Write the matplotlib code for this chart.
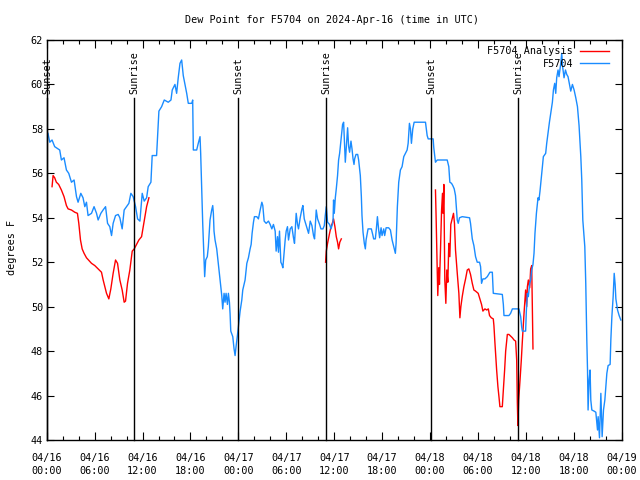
import matplotlib
matplotlib.use("Agg")
import matplotlib.pyplot as plt
from matplotlib.ticker import MultipleLocator
import matplotlib.transforms as mtransforms

# hours since 04/16 00:00 UTC, dew point in F
dew_16 = [(0.16, 57.8), (0.38, 57.4), (0.67, 57.5), (1.0, 57.2), (1.63, 57.05), (1.84, 56.6),
          (2.17, 56.7), (2.47, 56.15), (2.76, 56.0), (3.1, 55.6), (3.43, 55.7), (3.73, 54.95),
          (3.93, 54.7), (4.27, 55.1), (4.55, 54.9), (4.77, 54.5), (4.98, 54.7), (5.18, 54.1),
          (5.61, 54.2), (5.93, 54.5), (6.24, 54.2), (6.44, 53.9), (6.78, 54.2), (7.06, 54.35),
          (7.37, 54.5), (7.62, 53.75), (7.9, 53.6), (8.12, 53.2), (8.32, 53.75), (8.62, 54.1),
          (8.95, 54.15), (9.16, 54.0), (9.45, 53.5), (9.7, 54.35), (10.0, 54.5), (10.29, 54.65),
          (10.54, 55.1), (10.83, 54.95), (11.13, 54.5), (11.38, 53.95), (11.67, 53.85), (11.96, 55.1),
          (12.21, 54.75), (12.51, 54.9), (12.71, 55.4), (13.05, 55.6), (13.21, 56.8), (13.76, 56.8),
          (14.05, 58.8), (14.39, 59.0), (14.72, 59.3), (15.22, 59.2), (15.56, 59.3), (15.72, 59.75),
          (16.06, 60.0), (16.27, 59.6), (16.47, 60.3), (16.69, 60.95), (16.9, 61.1), (17.1, 60.4),
          (17.31, 60.0), (17.53, 59.6), (17.73, 59.15), (18.16, 59.15), (18.28, 59.3)]

dew_17 = [(18.36, 57.05), (18.78, 57.05), (18.98, 57.35), (19.2, 57.65), (19.28, 56.9), (19.41, 55.25),
          (19.54, 53.7), (19.7, 52.1), (19.78, 51.35), (19.91, 52.1), (20.11, 52.25), (20.24, 52.7),
          (20.45, 53.9), (20.66, 54.35), (20.79, 54.55), (20.87, 54.2), (20.95, 53.4), (21.08, 53.0),
          (21.29, 52.6), (21.5, 51.9), (21.71, 51.2), (21.92, 50.5), (22.04, 49.9), (22.21, 50.6),
          (22.33, 50.2), (22.46, 50.6), (22.63, 50.1), (22.75, 50.6), (22.88, 50.2), (22.96, 49.7),
          (23.05, 48.9), (23.3, 48.65), (23.46, 48.1), (23.59, 47.8), (23.71, 48.2), (23.88, 48.7),
          (24.0, 49.1), (24.22, 49.8), (24.43, 50.3), (24.55, 50.75), (24.84, 51.2), (25.06, 51.95),
          (25.26, 52.2), (25.47, 52.6), (25.6, 52.8), (25.72, 53.3), (25.89, 53.8), (26.01, 54.05),
          (26.31, 54.05), (26.51, 53.95), (26.73, 54.35), (26.94, 54.7), (27.06, 54.55), (27.23, 53.85),
          (27.48, 53.75), (27.77, 53.85), (27.98, 53.7), (28.19, 53.5), (28.39, 53.7), (28.61, 53.4),
          (28.73, 52.5), (28.9, 53.15), (29.02, 52.45), (29.15, 53.4), (29.32, 52.0), (29.45, 51.9),
          (29.57, 51.75), (29.74, 52.45), (29.86, 53.0), (29.99, 53.4), (30.15, 53.6), (30.28, 53.0),
          (30.49, 53.5), (30.7, 53.6), (30.9, 53.1), (31.03, 52.85), (31.24, 54.2), (31.41, 53.7),
          (31.53, 53.5), (31.74, 54.0), (31.96, 54.4), (32.08, 54.55), (32.25, 53.95), (32.5, 53.65),
          (32.66, 53.45), (32.79, 53.3), (33.0, 53.85), (33.21, 53.65), (33.41, 53.2), (33.54, 53.05),
          (33.75, 54.35), (33.92, 53.95), (34.17, 53.7), (34.34, 53.5), (34.59, 53.5), (34.76, 53.65),
          (34.88, 54.1), (35.01, 54.5), (35.17, 53.8), (35.42, 53.7), (35.6, 53.5), (35.85, 53.8),
          (35.92, 54.8), (36.01, 54.2), (36.14, 54.9), (36.26, 55.3), (36.42, 55.9), (36.55, 56.6),
          (36.68, 56.9)]

dew_18a = [(36.97, 57.95), (37.05, 58.2), (37.18, 58.3), (37.3, 57.2), (37.39, 56.5), (37.52, 57.2),
           (37.68, 58.05), (37.81, 57.2), (37.93, 56.95), (38.1, 57.45), (38.23, 57.1), (38.36, 56.65),
           (38.48, 56.4), (38.56, 56.65), (38.73, 56.85), (38.94, 56.85), (39.06, 56.6), (39.27, 55.9),
           (39.4, 54.95), (39.48, 54.1), (39.61, 53.35), (39.77, 52.85), (39.9, 52.6), (39.99, 53.0),
           (40.11, 53.25), (40.24, 53.5), (40.65, 53.5), (40.82, 53.25), (40.94, 53.05), (41.15, 53.05),
           (41.28, 53.5), (41.41, 54.05), (41.57, 53.45), (41.69, 53.1), (41.87, 53.55), (41.99, 53.2),
           (42.2, 53.5), (42.32, 53.2), (42.5, 53.55), (42.82, 53.55), (43.04, 53.45), (43.25, 53.0),
           (43.45, 52.7), (43.66, 52.4), (43.75, 52.85), (43.91, 54.5), (44.08, 55.6), (44.29, 56.15),
           (44.5, 56.3), (44.71, 56.75), (44.92, 56.9), (45.13, 57.05), (45.26, 57.35), (45.42, 58.25),
           (45.55, 58.0), (45.67, 57.35), (45.84, 58.0), (46.01, 58.3), (47.43, 58.3), (47.64, 57.7),
           (47.77, 57.55), (48.39, 57.55), (48.47, 57.15), (48.68, 56.5), (48.9, 56.6), (50.15, 56.6),
           (50.35, 56.3), (50.48, 55.6), (50.69, 55.55), (50.85, 55.45), (51.03, 55.3), (51.19, 55.0),
           (51.41, 53.9), (51.53, 53.75), (51.69, 54.0), (52.03, 54.05), (52.95, 54.0), (53.07, 53.75),
           (53.29, 53.05), (53.49, 52.75), (53.7, 52.25), (53.91, 52.0), (54.2, 52.0), (54.33, 51.8),
           (54.45, 51.05), (54.62, 51.25), (54.87, 51.25)]

dew_18b = [(55.17, 51.35), (55.5, 51.55), (55.8, 51.55), (55.92, 50.6), (57.05, 50.55), (57.18, 50.1),
           (57.26, 49.6), (57.88, 49.6), (58.09, 49.7), (58.31, 49.9), (59.13, 49.9), (59.35, 49.55),
           (59.47, 49.1), (59.56, 48.9), (59.97, 48.9), (60.06, 49.8), (60.19, 50.6), (60.31, 50.45),
           (60.48, 51.05), (60.6, 51.2), (60.73, 51.65), (60.89, 51.9), (61.02, 52.4), (61.14, 53.3),
           (61.32, 54.2), (61.44, 54.6), (61.52, 54.9), (61.64, 54.8), (61.77, 55.2), (61.94, 55.85),
           (62.07, 56.3), (62.19, 56.75), (62.48, 56.9), (62.61, 57.35), (62.77, 57.8), (62.95, 58.3),
           (63.11, 58.7), (63.32, 59.2), (63.45, 59.75), (63.61, 60.05), (63.74, 59.6), (63.86, 60.3),
           (64.03, 60.65), (64.15, 60.35), (64.37, 60.95), (64.49, 61.4), (64.62, 60.75), (64.78, 60.3),
           (64.96, 60.65), (65.12, 60.45), (65.28, 60.35), (65.46, 60.0), (65.62, 59.7), (65.83, 60.0),
           (66.04, 59.75), (66.25, 59.4), (66.46, 59.0), (66.66, 58.15), (66.88, 56.75), (67.0, 55.7),
           (67.13, 53.9), (67.38, 52.7), (67.5, 51.05), (67.63, 48.5), (67.72, 47.15), (67.79, 45.35),
           (67.92, 46.7), (68.04, 47.15), (68.13, 45.8), (68.26, 45.35), (68.54, 45.3), (68.76, 45.25),
           (68.97, 44.45), (69.05, 45.05), (69.22, 44.1), (69.39, 46.1), (69.55, 44.15), (69.72, 45.35),
           (69.89, 45.8), (70.01, 46.4), (70.14, 47.0), (70.3, 47.35), (70.55, 47.4), (70.64, 48.5),
           (70.77, 49.55), (70.93, 50.45), (71.06, 51.5), (71.18, 51.0), (71.27, 50.35), (71.48, 49.85),
           (71.68, 49.6), (71.89, 49.4)]

# analysis series, three separate runs
analysis_1 = [(0.67, 55.4), (0.8, 55.9), (1.0, 55.8), (1.21, 55.6), (1.5, 55.5), (1.84, 55.25),
              (2.17, 54.95), (2.47, 54.55), (2.68, 54.4), (3.1, 54.35), (3.51, 54.25), (3.85, 54.2),
              (4.02, 53.75), (4.23, 53.0), (4.44, 52.6), (4.68, 52.4), (4.98, 52.2), (5.61, 51.95),
              (6.02, 51.85), (6.44, 51.7), (6.86, 51.55), (7.07, 51.2), (7.28, 50.9), (7.49, 50.6),
              (7.78, 50.35), (8.03, 50.8), (8.32, 51.5), (8.62, 52.1), (8.87, 51.95), (9.16, 51.2),
              (9.45, 50.75), (9.7, 50.2), (9.87, 50.25), (10.12, 51.05), (10.41, 51.65), (10.71, 52.5),
              (10.96, 52.6), (11.25, 52.8), (11.54, 53.0), (11.88, 53.15), (12.09, 53.6), (12.3, 54.05),
              (12.51, 54.5), (12.8, 54.9)]

analysis_2 = [(34.92, 52.0), (35.01, 52.5), (35.17, 52.85), (35.42, 53.3), (35.6, 53.6), (35.76, 53.75),
              (35.92, 53.95), (36.09, 53.6), (36.26, 53.15), (36.42, 52.9), (36.55, 52.6), (36.7, 52.9),
              (36.89, 53.05)]

analysis_3 = [(48.68, 55.25), (48.76, 54.05), (48.9, 51.65), (48.97, 50.5), (49.1, 51.75), (49.18, 51.0),
              (49.31, 52.55), (49.44, 54.3), (49.56, 55.1), (49.64, 54.2), (49.73, 55.5), (49.85, 51.2),
              (49.98, 50.15), (50.1, 51.65), (50.23, 51.1), (50.35, 52.85), (50.48, 52.25), (50.6, 53.7),
              (50.77, 53.95), (50.94, 54.2), (51.06, 53.75), (51.19, 52.55), (51.41, 51.5), (51.61, 50.6),
              (51.74, 49.5), (51.86, 50.0), (52.03, 50.45), (52.24, 50.9), (52.45, 51.25), (52.66, 51.65),
              (52.86, 51.7), (53.07, 51.45), (53.29, 51.05), (53.49, 50.75), (53.7, 50.7), (54.03, 50.6),
              (54.2, 50.4), (54.45, 50.1), (54.62, 49.8), (54.87, 49.9), (55.1, 49.85), (55.3, 49.9),
              (55.45, 49.6), (55.67, 49.5), (55.92, 49.45), (56.0, 49.15), (56.13, 48.35), (56.34, 47.15),
              (56.5, 46.4), (56.63, 45.95), (56.75, 45.5), (57.05, 45.5), (57.18, 46.25), (57.34, 47.15),
              (57.47, 48.0), (57.68, 48.75), (57.88, 48.75), (58.31, 48.6), (58.52, 48.5), (58.72, 48.45),
              (58.85, 47.6), (58.93, 45.7), (59.0, 44.65), (59.1, 45.8), (59.27, 46.7), (59.43, 47.6),
              (59.56, 48.45), (59.77, 49.7), (59.97, 50.75), (60.1, 50.0), (60.19, 50.9), (60.31, 51.2),
              (60.48, 50.85), (60.6, 51.7), (60.73, 51.85), (60.81, 50.0), (60.89, 48.1)]

sun_events = ["Sunset", "Sunrise", "Sunset", "Sunrise", "Sunset", "Sunrise"]
sun_hours = [0.05, 10.92, 23.98, 35.03, 48.12, 59.0]

x_tick_labels = ["04/16\n00:00", "04/16\n06:00", "04/16\n12:00", "04/16\n18:00",
                 "04/17\n00:00", "04/17\n06:00", "04/17\n12:00", "04/17\n18:00",
                 "04/18\n00:00", "04/18\n06:00", "04/18\n12:00", "04/18\n18:00",
                 "04/19\n00:00"]

plt.rcParams['font.family'] = ['DejaVu Sans Mono']
plt.rcParams['font.size'] = 7.3

fig = plt.figure(figsize=(6.4, 4.8), dpi=100)
ax = fig.add_axes([46.7 / 640, 40 / 480, 575 / 640, 400 / 480])

red = '#ff0000'
blue = '#1a8cff'

for i, seg in enumerate([analysis_1, analysis_2, analysis_3]):
    h, v = zip(*seg)
    ax.plot(h, v, color=red, lw=1.0, label="F5704 Analysis" if i == 0 else None)

dew = dew_16 + dew_17 + dew_18a + dew_18b
h, v = zip(*dew)
ax.plot(h, v, color=blue, lw=1.0, label="F5704")

# sunrise / sunset markers
trans = mtransforms.blended_transform_factory(ax.transData, ax.transAxes)
for name, hr in zip(sun_events, sun_hours):
    ax.plot([hr, hr], [0, 0.855], color='black', lw=1.0, transform=trans, clip_on=False)
    ax.text(hr, 0.866, name, rotation=90, ha='center', va='bottom', transform=trans)

ax.set_xlim(0, 72)
ax.set_ylim(44, 62)
ax.set_xticks(range(0, 73, 6))
ax.set_xticklabels(x_tick_labels)
for lab in ax.get_xticklabels():
    lab.set_linespacing(1.5)
ax.xaxis.set_minor_locator(MultipleLocator(2))
ax.set_yticks(range(44, 63, 2))

ax.tick_params(which='both', direction='in', top=True, right=True, width=0.8)
ax.tick_params(axis='x', which='major', length=6, pad=9)
ax.tick_params(axis='x', which='minor', length=3)
ax.tick_params(axis='y', which='major', length=5, pad=2.6)
for s in ax.spines.values():
    s.set_linewidth(1.0)

fig.text(0.519, 1 - 20 / 480, "Dew Point for F5704 on 2024-Apr-16 (time in UTC)",
         ha='center', va='center')
fig.text(12 / 640, 0.484, "degrees F", rotation=90, ha='center', va='center')

ax.legend(loc='upper right', bbox_to_anchor=(1 - 7 / 575, 1), frameon=False,
          markerfirst=False, handlelength=2.8, handletextpad=0.7, labelspacing=0.25,
          borderaxespad=0.3, borderpad=0.3)

fig.savefig("out.png", dpi=100)
